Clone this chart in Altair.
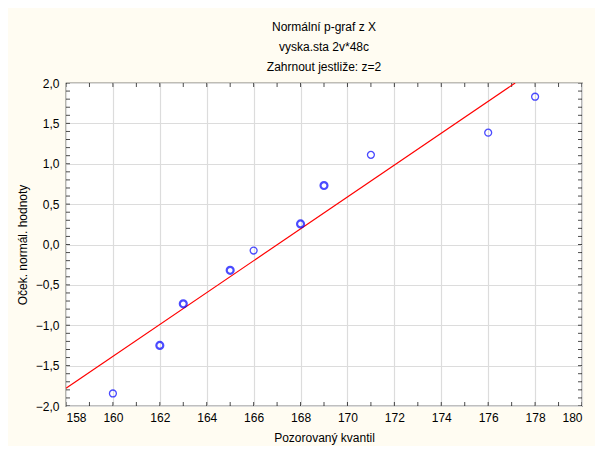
import altair as alt
import pandas as pd

# Data
obs_x = [160, 162, 163, 165, 166, 168, 169, 171, 176, 178]
exp_y = [-1.845, -1.25, -0.735, -0.32, -0.075, 0.255, 0.73, 1.11, 1.385, 1.83]
dup = [1, 2, 2, 2, 1, 2, 2, 1, 1, 1]   # overlapping (bold) markers

line_x = [158, 177.15]
line_y = [-1.78, 2.0]

x_ticks = list(range(158, 181))
y_ticks = [round(-2.0 + 0.1 * i, 1) for i in range(41)]

title_lines = ["Normální p-graf z X", "vyska.sta 2v*48c", "Zahrnout jestliže: z=2"]

FONT = "Liberation Sans"

pts = pd.DataFrame({"x": obs_x, "y": exp_y, "dup": dup})
ln = pd.DataFrame({"x": line_x, "y": line_y})

xs = alt.Scale(domain=[158, 180], nice=False, zero=False)
ys = alt.Scale(domain=[-2, 2], nice=False, zero=False)

lab = "replace(format(datum.value, '.1f'), '.', ',')"

base_x = alt.X("x:Q", scale=xs, title="Pozorovaný kvantil",
               axis=alt.Axis(values=list(range(158, 181, 2)), ticks=False, domain=False,
                             grid=True, gridColor="#DCDCDC", gridWidth=1.2,
                             labelPadding=6, titlePadding=9, format="d"))
base_y = alt.Y("y:Q", scale=ys, title="Oček. normál. hodnoty",
               axis=alt.Axis(values=[round(-2 + 0.5 * i, 1) for i in range(9)], ticks=False,
                             domain=False, grid=True, gridColor="#DCDCDC", gridWidth=1.2,
                             labelPadding=7, titlePadding=6, labelExpr=lab))

points = alt.Chart(pts).mark_point(shape="circle", filled=False, color="#0000FF", size=48).encode(
    x=base_x, y=base_y,
    strokeWidth=alt.StrokeWidth("dup:Q", scale=alt.Scale(domain=[1, 2], range=[1.3, 2.2]), legend=None),
)

fit = alt.Chart(ln).mark_line(color="#FF0000", strokeWidth=1.2, clip=True).encode(
    x=alt.X("x:Q", scale=xs), y=alt.Y("y:Q", scale=ys))

xt = pd.DataFrame({"x": x_ticks * 2, "y": [-2.0] * len(x_ticks) + [2.0] * len(x_ticks)})
yt = pd.DataFrame({"y": y_ticks * 2, "x": [158] * len(y_ticks) + [180] * len(y_ticks)})

xtick = alt.Chart(xt).mark_tick(orient="vertical", size=8, thickness=1, color="black", clip=True).encode(
    x=alt.X("x:Q", scale=xs), y=alt.Y("y:Q", scale=ys))
ytick = alt.Chart(yt).mark_tick(orient="horizontal", size=8, thickness=1, color="black", clip=True).encode(
    x=alt.X("x:Q", scale=xs), y=alt.Y("y:Q", scale=ys))

chart = alt.layer(xtick, ytick, fit, points).properties(
    width=516, height=323,
    title=alt.TitleParams(text=title_lines, fontSize=12, font=FONT, fontWeight="normal",
                          lineHeight=20, anchor="middle", offset=3, color="black"),
    autosize=alt.AutoSizeParams(type="none"),
    padding={"left": 58, "top": 75, "right": 13, "bottom": 40},
    background="#FFFCF2",
).configure_view(fill="white", stroke="black", strokeWidth=1.2).configure_axis(
    labelFont=FONT, titleFont=FONT, labelFontSize=12, titleFontSize=12,
    labelColor="black", titleColor="black", titleFontWeight="normal",
)

chart.save("out.html", embed_options={"renderer": "svg", "actions": False})
